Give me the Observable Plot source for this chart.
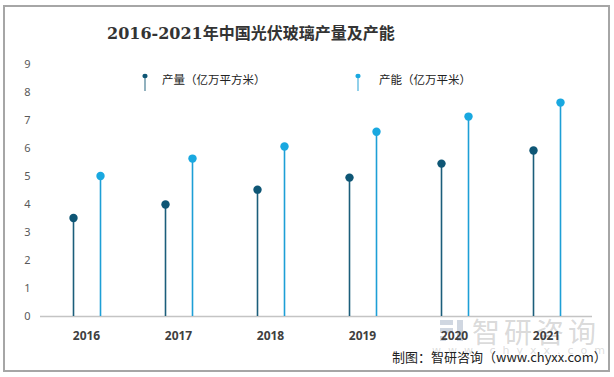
<!DOCTYPE html>
<html><head><meta charset="utf-8">
<script src="https://cdn.jsdelivr.net/npm/d3@7"></script>
<script src="https://cdn.jsdelivr.net/npm/@observablehq/plot@0.6"></script>
<style>
body{margin:0;background:#fff;}
#wrap{position:relative;width:614px;height:377px;overflow:hidden;font-family:"Noto Sans CJK SC","Noto Sans",sans-serif;}
#frame{position:absolute;left:3px;top:5px;width:603px;height:363px;border:2px solid #a6a6a6;box-sizing:content-box;}
#title{position:absolute;left:107px;top:20px;font-family:"DejaVu Serif","Liberation Serif","Noto Sans CJK SC";font-size:16px;font-weight:bold;color:#333;white-space:nowrap;}
.leg{position:absolute;top:71px;font-size:11.5px;color:#222;white-space:nowrap;}
#wm{position:absolute;left:472px;top:311px;font-size:28px;color:rgba(160,160,160,0.4);letter-spacing:4px;}
#wm2{position:absolute;left:432px;top:344px;font-size:11px;color:rgba(170,170,170,0.4);letter-spacing:7px;font-family:"DejaVu Sans";}
#logo{position:absolute;left:440px;top:318px;width:28px;height:24px;}
#cap{position:absolute;left:392px;top:347px;font-size:13px;color:#222;}
#plot{position:absolute;left:0;top:0;}
</style></head>
<body><div id="wrap">
<div id="frame"></div>
<div id="wm">智研咨询</div>
<div id="wm2">www.chyxx.com</div>
<svg id="logo" viewBox="0 0 28 24"><rect x="0" y="2" width="13" height="5" fill="rgba(120,140,170,0.35)"/><rect x="0" y="10" width="13" height="5" fill="rgba(120,140,170,0.35)"/><rect x="0" y="18" width="6" height="5" fill="rgba(120,140,170,0.35)"/><rect x="17" y="2" width="6" height="21" fill="rgba(120,140,170,0.35)"/></svg>
<div id="plot"></div>
<div id="title">2016-2021年中国光伏玻璃产量及产能</div>
<div id="leg"></div>
<div id="cap">制图：智研咨询（www.chyxx.com）</div>
</div>
<script>
const years = ["2016","2017","2018","2019","2020","2021"];
const production = [3.52, 4.0, 4.53, 4.96, 5.46, 5.93];
const capacity = [5.02, 5.64, 6.07, 6.6, 7.14, 7.64];
const seriesNames = ["产量（亿万平方米）","产能（亿万平米）"];
const yTicks = [0,1,2,3,4,5,6,7,8,9];

const rows = [];
years.forEach((y,i)=>{
  rows.push({year:y, series:seriesNames[0], value:production[i]});
  rows.push({year:y, series:seriesNames[1], value:capacity[i]});
});
const lineCol = {[seriesNames[0]]:"#1b5e7b", [seriesNames[1]]:"#1d9fd6"};
const dotCol = {[seriesNames[0]]:"#0e5675", [seriesNames[1]]:"#19a8e0"};

const chart = Plot.plot({
  width:614, height:377,
  marginLeft:40, marginRight:22, marginTop:64, marginBottom:61,
  style:{background:"transparent", fontFamily:"'Noto Sans','DejaVu Sans',sans-serif"},
  x:{domain:seriesNames, type:"point", padding:1.2037, axis:null},
  fx:{domain:years, padding:0, label:null, axis:null},
  y:{domain:[0,9], ticks:yTicks, label:null},
  marks:[
    Plot.ruleY([0],{stroke:"#c4c4c4", strokeWidth:1.5}),
    Plot.axisY({ticks:yTicks, tickSize:0, tickPadding:10, fill:"#595959", fontSize:11, label:null}),
    Plot.axisFx({anchor:"bottom", tickSize:0, tickPadding:15, fontSize:12, fontWeight:"bold", fill:"#404040", label:null}),
    Plot.ruleX(rows, {fx:"year", x:"series", y1:0, y2:"value", stroke:d=>lineCol[d.series], strokeWidth:1.6}),
    Plot.dot(rows, {fx:"year", x:"series", y:"value", r:4.2, fill:d=>dotCol[d.series], stroke:"none"})
  ]
});
document.getElementById("plot").appendChild(chart);

// legend
const leg = document.getElementById("leg");
const legX = [[145,162],[358,379]];
seriesNames.forEach((s,i)=>{
  const m = document.createElementNS("http://www.w3.org/2000/svg","svg");
  m.setAttribute("width",8); m.setAttribute("height",20);
  m.style.position="absolute"; m.style.left=(legX[i][0]-4)+"px"; m.style.top="72px";
  m.innerHTML = `<line x1="4" x2="4" y1="4" y2="19" stroke="${lineCol[s]}" stroke-width="1.2" opacity="0.8"/><ellipse cx="4" cy="4" rx="2.6" ry="2.2" fill="${dotCol[s]}"/>`;
  leg.appendChild(m);
  const t = document.createElement("div");
  t.className="leg"; t.textContent=s; t.style.left=legX[i][1]+"px";
  leg.appendChild(t);
});
</script>
</body></html>
